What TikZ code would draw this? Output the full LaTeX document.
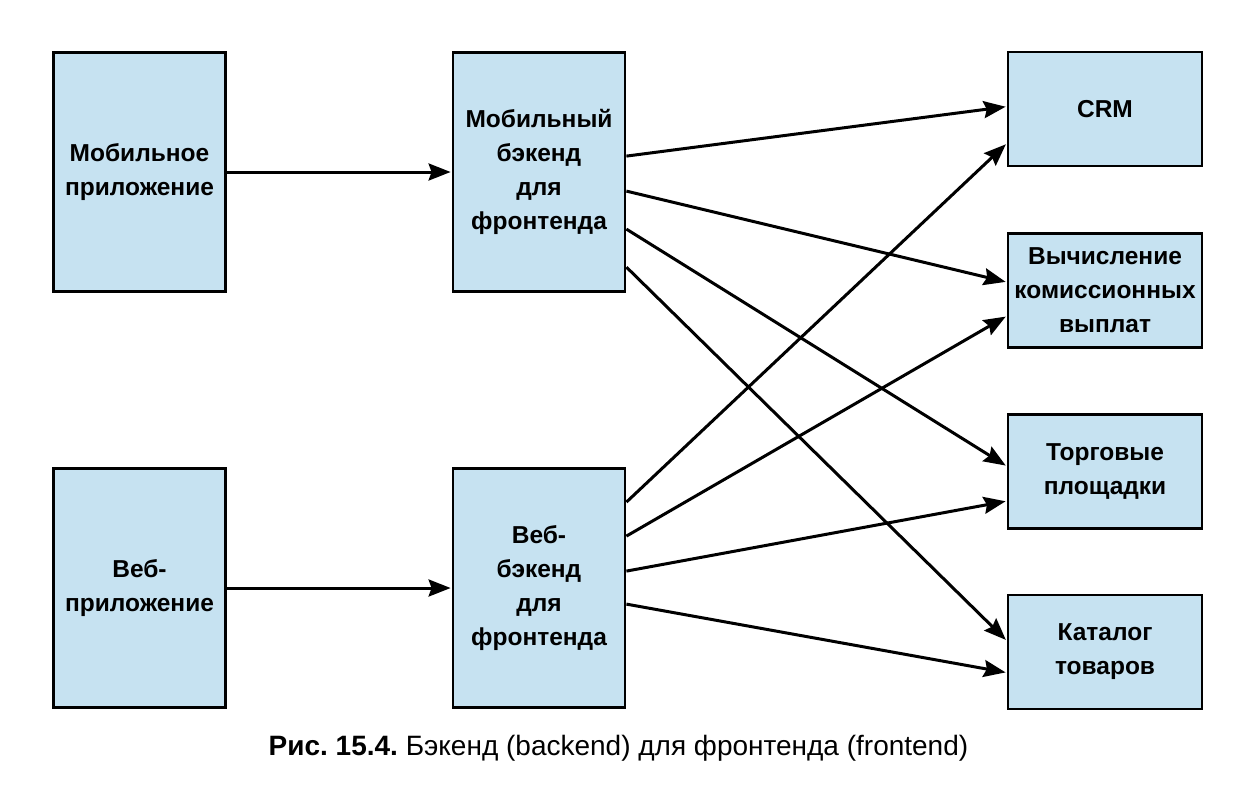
\documentclass[tikz,border=0pt]{standalone}
\usepackage{fontspec}
\setmainfont{Liberation Sans}
\usetikzlibrary{arrows.meta,calc}
\definecolor{boxfill}{RGB}{198,226,241}
\frenchspacing
\tikzset{
  box/.style={draw=black, fill=boxfill, line width=2.8pt, inner sep=0pt,
    align=center, font=\fontsize{24.5pt}{34pt}\selectfont\bfseries},
  tall/.style={box, minimum width=172pt, minimum height=239pt},
  small/.style={box, minimum width=194pt, minimum height=114pt},
  conn/.style={line width=3pt, -{Stealth[length=22pt,width=17pt,inset=3pt]}, shorten >=1pt}
}
\begin{document}
\begin{tikzpicture}[x=1pt,y=-1pt]
\useasboundingbox (0,0) rectangle (1246,804);
\node[tall] (mapp) at (139.5,172) {Мобильное\\приложение};
\node[tall] (wapp) at (139.5,588) {Веб-\\приложение};
\node[tall] (mbff) at (539,172) {Мобильный\\бэкенд\\для\\фронтенда};
\node[tall] (wbff) at (539,588) {Веб-\\бэкенд\\для\\фронтенда};
\node[small] (crm) at (1105,109) {CRM};
\node[small] (com) at (1105,290.5) {Вычисление\\комиссионных\\выплат};
\node[small] (mkt) at (1105,471.5) {Торговые\\площадки};
\node[small] (cat) at (1105,652) {Каталог\\товаров};
\draw[conn] (mapp.east) -- (mbff.west);
\draw[conn] (wapp.east) -- (wbff.west);
% mobile BFF outputs
\draw[conn] ([yshift=-105pt]mbff.north east) -- ([yshift=-56pt]crm.north west);
\draw[conn] ([yshift=-140pt]mbff.north east) -- ([yshift=-50pt]com.north west);
\draw[conn] ([yshift=-178pt]mbff.north east) -- ([yshift=-53pt]mkt.north west);
\draw[conn] ([yshift=-216pt]mbff.north east) -- ([yshift=-47pt]cat.north west);
% web BFF outputs
\draw[conn] ([yshift=-35pt]wbff.north east) -- ([yshift=-93pt]crm.north west);
\draw[conn] ([yshift=-69pt]wbff.north east) -- ([yshift=-84pt]com.north west);
\draw[conn] ([yshift=-104pt]wbff.north east) -- ([yshift=-88pt]mkt.north west);
\draw[conn] ([yshift=-137pt]wbff.north east) -- ([yshift=-79pt]cat.north west);
\node[font=\fontsize{28pt}{32pt}\selectfont] (cap) at (618.5,748) {\textbf{Рис. 15.4.} Бэкенд (backend) для фронтенда (frontend)};
\end{tikzpicture}
\end{document}
